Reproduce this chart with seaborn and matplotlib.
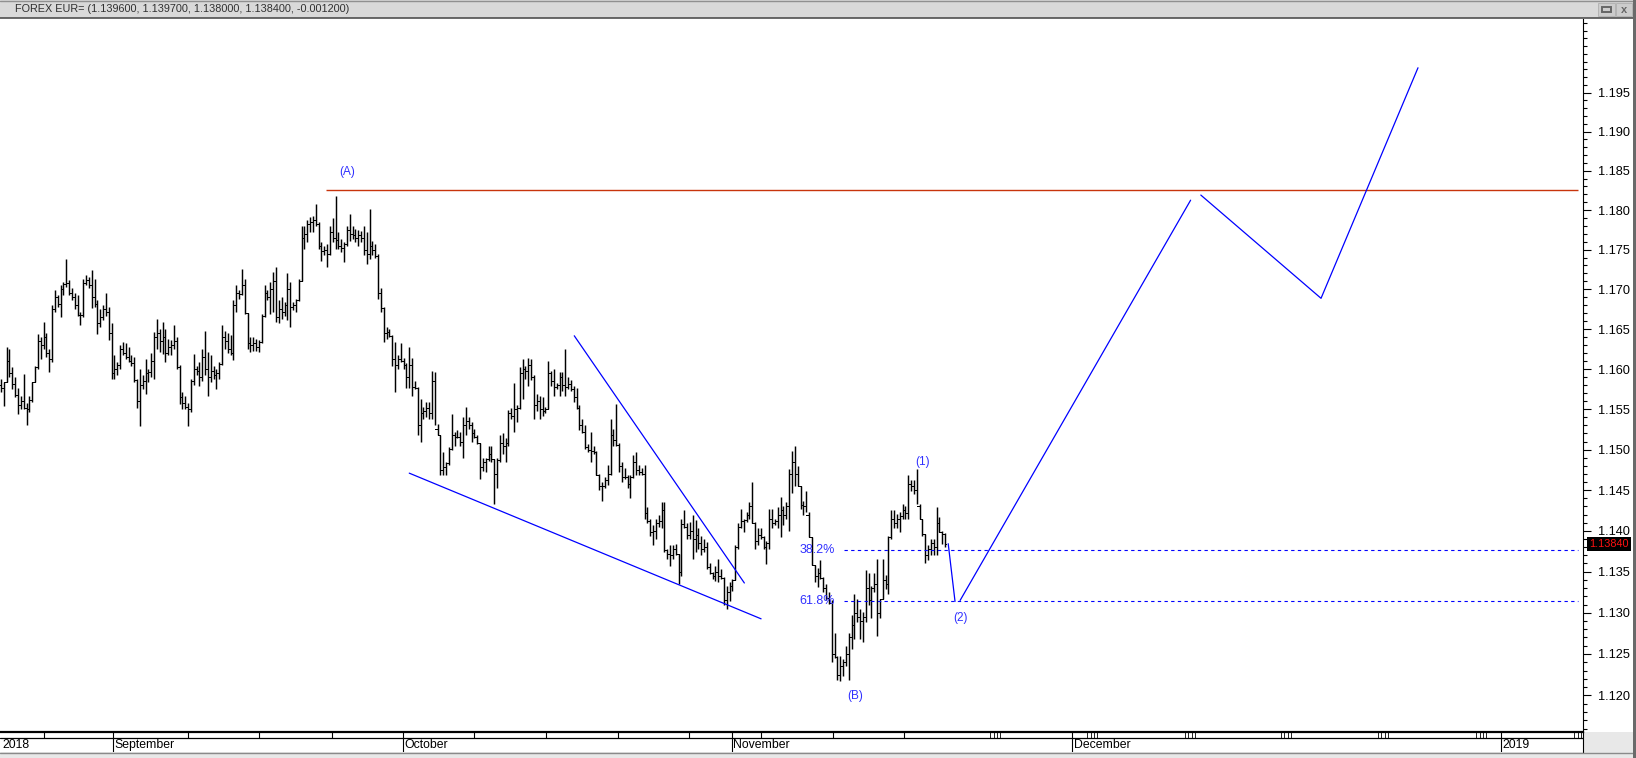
import numpy as np
import pandas as pd
import matplotlib
matplotlib.use("Agg")
import matplotlib.pyplot as plt
import matplotlib.transforms as mtransforms
from matplotlib.patches import Rectangle
from matplotlib.lines import Line2D
from matplotlib.ticker import FixedLocator, NullFormatter
import seaborn as sns

# EUR/USD intraday bars (open of each bar = close of the previous one)
first_open = 1.1580
high = [
    1.1588, 1.1584, 1.1627, 1.1625, 1.1602, 1.1590, 1.1577, 1.1567, 1.1594, 1.1558,
    1.1567, 1.1584, 1.1604, 1.1644, 1.1640, 1.1659, 1.1645, 1.1625, 1.1680, 1.1699,
    1.1693, 1.1705, 1.1709, 1.1738, 1.1712, 1.1701, 1.1695, 1.1693, 1.1672, 1.1713,
    1.1718, 1.1716, 1.1724, 1.1713, 1.1686, 1.1675, 1.1680, 1.1695, 1.1678, 1.1657,
    1.1617, 1.1609, 1.1630, 1.1634, 1.1632, 1.1628, 1.1617, 1.1615, 1.1588, 1.1600,
    1.1592, 1.1613, 1.1600, 1.1620, 1.1646, 1.1663, 1.1650, 1.1659, 1.1650, 1.1638,
    1.1636, 1.1655, 1.1640, 1.1605, 1.1571, 1.1567, 1.1558, 1.1588, 1.1619, 1.1604,
    1.1609, 1.1625, 1.1648, 1.1621, 1.1617, 1.1604, 1.1600, 1.1609, 1.1655, 1.1648,
    1.1645, 1.1642, 1.1686, 1.1705, 1.1699, 1.1726, 1.1713, 1.1670, 1.1640, 1.1640,
    1.1638, 1.1636, 1.1669, 1.1705, 1.1699, 1.1709, 1.1722, 1.1728, 1.1686, 1.1690,
    1.1684, 1.1720, 1.1709, 1.1684, 1.1688, 1.1713, 1.1780, 1.1780, 1.1788, 1.1791,
    1.1793, 1.1808, 1.1785, 1.1759, 1.1755, 1.1757, 1.1780, 1.1790, 1.1818, 1.1772,
    1.1763, 1.1759, 1.1780, 1.1795, 1.1780, 1.1776, 1.1775, 1.1774, 1.1780, 1.1772,
    1.1801, 1.1761, 1.1757, 1.1745, 1.1701, 1.1678, 1.1653, 1.1650, 1.1642, 1.1634,
    1.1617, 1.1632,
    1.1614, 1.1608, 1.1627, 1.1614, 1.1585, 1.1578, 1.1563, 1.1553, 1.1559, 1.1559,
    1.1598, 1.1596, 1.1532, 1.1518, 1.1497, 1.1485, 1.1503, 1.1544, 1.1522, 1.1524,
    1.1522, 1.1540, 1.1553, 1.1540, 1.1534, 1.1526, 1.1518, 1.1508, 1.1489, 1.1489,
    1.1505, 1.1505, 1.1488, 1.1489, 1.1518, 1.1520, 1.1514, 1.1549, 1.1551, 1.1583,
    1.1555, 1.1602, 1.1612, 1.1604, 1.1614, 1.1612, 1.1592, 1.1569, 1.1567, 1.1565,
    1.1553, 1.1610, 1.1598, 1.1600, 1.1583, 1.1596, 1.1596, 1.1625, 1.1590, 1.1586,
    1.1579, 1.1577, 1.1555, 1.1538, 1.1530, 1.1507, 1.1522, 1.1505, 1.1498, 1.1470,
    1.1460, 1.1466, 1.1481, 1.1538, 1.1526, 1.1557, 1.1508, 1.1485, 1.1477, 1.1468,
    1.1468, 1.1493, 1.1497, 1.1481, 1.1477, 1.1481, 1.1429, 1.1415, 1.1407, 1.1415,
    1.1419, 1.1435, 1.1435, 1.1378, 1.1382, 1.1382, 1.1384, 1.1372, 1.1415, 1.1425,
    1.1409, 1.1411, 1.1419, 1.1413, 1.1403, 1.1394, 1.1390, 1.1386, 1.1361, 1.1349,
    1.1357, 1.1365, 1.1353, 1.1343, 1.1333, 1.1337, 1.1341, 1.1382, 1.1409, 1.1427,
    1.1415, 1.1423, 1.1435, 1.1460, 1.1411, 1.1403, 1.1403, 1.1394, 1.1388, 1.1427,
    1.1427, 1.1415, 1.1429,
    1.1441, 1.1431, 1.1435, 1.1476, 1.1498, 1.1504, 1.1480, 1.1455, 1.1437, 1.1449,
    1.1423, 1.1392, 1.1358, 1.1354, 1.1364, 1.1343, 1.1335, 1.1325, 1.1315, 1.1276,
    1.1248, 1.1248, 1.1244, 1.1260, 1.1276, 1.1297, 1.1323, 1.1317, 1.1305, 1.1301,
    1.1352, 1.1348, 1.1333, 1.1348, 1.1366, 1.1317, 1.1366, 1.1346, 1.1394, 1.1425,
    1.1425, 1.1421, 1.1423, 1.1433, 1.1431, 1.1468, 1.1462, 1.1462, 1.1476, 1.1433,
    1.1415, 1.1396, 1.1382, 1.1390, 1.1390, 1.1429, 1.1417, 1.1400, 1.1397,
]
low = [
    1.1571, 1.1554, 1.1584, 1.1590, 1.1575, 1.1565, 1.1544, 1.1550, 1.1550, 1.1531,
    1.1546, 1.1559, 1.1584, 1.1600, 1.1613, 1.1625, 1.1615, 1.1596, 1.1609, 1.1672,
    1.1678, 1.1665, 1.1693, 1.1703, 1.1693, 1.1686, 1.1675, 1.1667, 1.1655, 1.1665,
    1.1705, 1.1701, 1.1676, 1.1678, 1.1644, 1.1652, 1.1661, 1.1667, 1.1636, 1.1588,
    1.1588, 1.1592, 1.1600, 1.1617, 1.1612, 1.1609, 1.1604, 1.1584, 1.1552, 1.1529,
    1.1575, 1.1569, 1.1584, 1.1590, 1.1588, 1.1625, 1.1621, 1.1619, 1.1609, 1.1617,
    1.1617, 1.1625, 1.1600, 1.1556, 1.1550, 1.1550, 1.1529, 1.1546, 1.1580, 1.1592,
    1.1579, 1.1585, 1.1592, 1.1567, 1.1584, 1.1588, 1.1575, 1.1588, 1.1605, 1.1625,
    1.1620, 1.1617, 1.1611, 1.1672, 1.1688, 1.1693, 1.1669, 1.1625, 1.1621, 1.1623,
    1.1622, 1.1621, 1.1632, 1.1665, 1.1686, 1.1669, 1.1672, 1.1659, 1.1657, 1.1662,
    1.1667, 1.1661, 1.1653, 1.1674, 1.1672, 1.1685, 1.1710, 1.1751, 1.1760, 1.1772,
    1.1772, 1.1780, 1.1751, 1.1736, 1.1743, 1.1728, 1.1743, 1.1760, 1.1751, 1.1751,
    1.1747, 1.1734, 1.1755, 1.1761, 1.1763, 1.1759, 1.1755, 1.1759, 1.1743, 1.1732,
    1.1738, 1.1743, 1.1740, 1.1688, 1.1672, 1.1634, 1.1638, 1.1640, 1.1604, 1.1571,
    1.1600, 1.1609,
    1.1600, 1.1577, 1.1577, 1.1567, 1.1575, 1.1518, 1.1509, 1.1538, 1.1540, 1.1538,
    1.1538, 1.1530, 1.1518, 1.1468, 1.1468, 1.1468, 1.1481, 1.1500, 1.1505, 1.1514,
    1.1505, 1.1489, 1.1518, 1.1526, 1.1509, 1.1514, 1.1507, 1.1464, 1.1474, 1.1472,
    1.1486, 1.1485, 1.1433, 1.1452, 1.1485, 1.1495, 1.1485, 1.1505, 1.1538, 1.1522,
    1.1534, 1.1550, 1.1563, 1.1588, 1.1579, 1.1586, 1.1538, 1.1548, 1.1538, 1.1542,
    1.1545, 1.1550, 1.1579, 1.1567, 1.1575, 1.1567, 1.1573, 1.1567, 1.1575, 1.1573,
    1.1559, 1.1550, 1.1524, 1.1520, 1.1501, 1.1497, 1.1485, 1.1495, 1.1468, 1.1450,
    1.1437, 1.1452, 1.1456, 1.1468, 1.1505, 1.1505, 1.1472, 1.1460, 1.1464, 1.1452,
    1.1440, 1.1465, 1.1468, 1.1468, 1.1468, 1.1415, 1.1409, 1.1394, 1.1382, 1.1390,
    1.1405, 1.1403, 1.1374, 1.1365, 1.1357, 1.1365, 1.1370, 1.1335, 1.1345, 1.1403,
    1.1390, 1.1390, 1.1365, 1.1374, 1.1378, 1.1370, 1.1374, 1.1353, 1.1347, 1.1341,
    1.1339, 1.1337, 1.1341, 1.1310, 1.1304, 1.1314, 1.1326, 1.1340, 1.1378, 1.1403,
    1.1398, 1.1411, 1.1415, 1.1409, 1.1378, 1.1382, 1.1390, 1.1378, 1.1359, 1.1378,
    1.1403, 1.1407, 1.1403,
    1.1392, 1.1407, 1.1415, 1.1400, 1.1447, 1.1455, 1.1455, 1.1427, 1.1419, 1.1423,
    1.1392, 1.1358, 1.1337, 1.1331, 1.1341, 1.1325, 1.1315, 1.1311, 1.1240, 1.1245,
    1.1219, 1.1217, 1.1223, 1.1236, 1.1219, 1.1256, 1.1268, 1.1289, 1.1268, 1.1264,
    1.1289, 1.1309, 1.1293, 1.1325, 1.1272, 1.1293, 1.1317, 1.1329, 1.1323, 1.1390,
    1.1403, 1.1403, 1.1398, 1.1415, 1.1415, 1.1415, 1.1449, 1.1445, 1.1433, 1.1415,
    1.1394, 1.1360, 1.1364, 1.1370, 1.1370, 1.1370, 1.1398, 1.1384, 1.1380,
]
close = [
    1.1576, 1.1584, 1.1610, 1.1595, 1.1582, 1.1568, 1.1555, 1.1560, 1.1552, 1.1550,
    1.1562, 1.1584, 1.1602, 1.1635, 1.1630, 1.1640, 1.1620, 1.1612, 1.1675, 1.1690,
    1.1682, 1.1700, 1.1706, 1.1708, 1.1695, 1.1690, 1.1680, 1.1668, 1.1668, 1.1708,
    1.1712, 1.1705, 1.1690, 1.1682, 1.1658, 1.1665, 1.1675, 1.1672, 1.1645, 1.1595,
    1.1600, 1.1605, 1.1625, 1.1620, 1.1615, 1.1610, 1.1608, 1.1586, 1.1560, 1.1580,
    1.1585, 1.1595, 1.1596, 1.1610, 1.1640, 1.1645, 1.1635, 1.1640, 1.1620, 1.1628,
    1.1630, 1.1635, 1.1603, 1.1565, 1.1558, 1.1553, 1.1550, 1.1585, 1.1600, 1.1598,
    1.1590, 1.1615, 1.1600, 1.1590, 1.1598, 1.1592, 1.1595, 1.1606, 1.1640, 1.1635,
    1.1625, 1.1620, 1.1680, 1.1695, 1.1694, 1.1705, 1.1670, 1.1632, 1.1630, 1.1632,
    1.1628, 1.1634, 1.1666, 1.1695, 1.1690, 1.1700, 1.1710, 1.1665, 1.1675, 1.1672,
    1.1680, 1.1700, 1.1678, 1.1680, 1.1686, 1.1711, 1.1765, 1.1770, 1.1782, 1.1785,
    1.1788, 1.1782, 1.1755, 1.1748, 1.1750, 1.1745, 1.1772, 1.1765, 1.1762, 1.1755,
    1.1752, 1.1757, 1.1775, 1.1770, 1.1768, 1.1765, 1.1768, 1.1765, 1.1750, 1.1745,
    1.1755, 1.1750, 1.1742, 1.1695, 1.1676, 1.1645, 1.1646, 1.1641, 1.1612, 1.1605,
    1.1612, 1.1610,
    1.1605, 1.1590, 1.1605, 1.1578, 1.1577, 1.1530, 1.1545, 1.1548, 1.1552, 1.1545,
    1.1585, 1.1525, 1.1518, 1.1475, 1.1478, 1.1483, 1.1501, 1.1518, 1.1516, 1.1515,
    1.1510, 1.1530, 1.1535, 1.1530, 1.1520, 1.1516, 1.1508, 1.1478, 1.1485, 1.1488,
    1.1495, 1.1488, 1.1470, 1.1487, 1.1508, 1.1505, 1.1508, 1.1545, 1.1542, 1.1550,
    1.1552, 1.1595, 1.1600, 1.1598, 1.1605, 1.1590, 1.1555, 1.1560, 1.1550, 1.1548,
    1.1550, 1.1595, 1.1585, 1.1578, 1.1580, 1.1590, 1.1580, 1.1578, 1.1582, 1.1575,
    1.1565, 1.1552, 1.1530, 1.1522, 1.1503, 1.1500, 1.1498, 1.1497, 1.1469, 1.1455,
    1.1455, 1.1462, 1.1470, 1.1518, 1.1512, 1.1506, 1.1480, 1.1466, 1.1466, 1.1458,
    1.1466, 1.1485, 1.1475, 1.1472, 1.1470, 1.1422, 1.1412, 1.1398, 1.1400, 1.1410,
    1.1412, 1.1425, 1.1376, 1.1372, 1.1370, 1.1378, 1.1371, 1.1350, 1.1408, 1.1405,
    1.1395, 1.1400, 1.1390, 1.1395, 1.1385, 1.1378, 1.1380, 1.1356, 1.1348, 1.1345,
    1.1350, 1.1345, 1.1342, 1.1315, 1.1325, 1.1332, 1.1340, 1.1380, 1.1405, 1.1412,
    1.1413, 1.1420, 1.1430, 1.1410, 1.1388, 1.1395, 1.1392, 1.1380, 1.1385, 1.1415,
    1.1410, 1.1412, 1.1420,
    1.1425, 1.1420, 1.1430, 1.1470, 1.1485, 1.1470, 1.1455, 1.1432, 1.1430, 1.1420,
    1.1392, 1.1358, 1.1345, 1.1348, 1.1342, 1.1330, 1.1318, 1.1312, 1.1250, 1.1246,
    1.1225, 1.1235, 1.1240, 1.1250, 1.1270, 1.1285, 1.1300, 1.1295, 1.1290, 1.1295,
    1.1330, 1.1315, 1.1330, 1.1335, 1.1300, 1.1317, 1.1340, 1.1335, 1.1392, 1.1415,
    1.1410, 1.1415, 1.1418, 1.1425, 1.1422, 1.1458, 1.1455, 1.1450, 1.1430, 1.1415,
    1.1396, 1.1370, 1.1378, 1.1385, 1.1380, 1.1410, 1.1399, 1.1396, 1.1384,
]

# drawings (x in bar numbers, y in price)
proj_bar = [334.1, 336.5, 338.3, 419.6, 423.2, 465.6, 499.8]
proj_price = [1.13842, 1.13138, 1.13150, 1.18126, 1.18191, 1.16886, 1.19820]
proj_leg = [1, 1, 2, 2, 3, 3, 3]
lower_line_bar = [144.0, 268.1]
lower_line_price = [1.14709, 1.12926]
upper_line_bar = [202.2, 262.2]
upper_line_price = [1.16416, 1.13362]
resistance_price = 1.18257
resistance_bar = [114.6, 556.3]
fib_price = [1.13768, 1.13138]
fib_text = ["38.2%", "61.8%"]
fib_start_bar = 297.4
wave_text = ["(A)", "(B)", "(1)", "(2)"]
wave_bar = [122.2, 301.4, 325.0, 338.4]
wave_price = [1.18486, 1.11998, 1.14842, 1.12936]
last_price = 1.13840

# axis marks
price_major = [1.120, 1.125, 1.130, 1.135, 1.140, 1.145, 1.150, 1.155,
               1.160, 1.165, 1.170, 1.175, 1.180, 1.185, 1.190, 1.195]
week_bar = [15.2, 65.9, 91.0, 116.6, 166.8, 192.4, 217.6, 242.7, 268.1, 293.5, 318.5]
future_week_bar = [348.9, 383.1, 417.6, 451.5, 485.7, 520.3, 554.9]
month_bar = [0, 39.5, 141.7, 257.7, 377.7, 529.1]
month_names = ["2018", "September", "October", "November", "December", "2019"]
title = "FOREX EUR= (1.139600, 1.139700, 1.138000, 1.138400, -0.001200)"

sns.set_theme(style="white")
plt.rcParams["font.family"] = ["Liberation Sans", "DejaVu Sans"]

W, H = 1636, 758
XMIN, XMAX = -0.35, 558.0
fig = plt.figure(figsize=(W / 100, H / 100), dpi=100)
fig.patch.set_facecolor("#e8e8e8")


def frac(x0, y0, x1, y1):
    return [x0 / W, 1 - y1 / H, (x1 - x0) / W, (y1 - y0) / H]


def rect(x0, y0, x1, y1, **kw):
    r = Rectangle((x0 / W, 1 - y1 / H), (x1 - x0) / W, (y1 - y0) / H,
                  transform=fig.transFigure, **kw)
    fig.add_artist(r)
    return r


# window frame
rect(0, 18, 1633, 732, facecolor="white", edgecolor="none", zorder=0)
rect(0, 0, W, 18, facecolor="#d9d9d9", edgecolor="none", zorder=0)
fig.add_artist(Line2D([0, 1], [1 - 18 / H] * 2, transform=fig.transFigure, color="#505050", lw=1.2))
fig.add_artist(Line2D([0, 1], [1 - 0.5 / H] * 2, transform=fig.transFigure, color="#909090", lw=1))
rect(1633, 0, W, H, facecolor="#6a6a6a", edgecolor="none", zorder=3)
fig.text(15 / W, 1 - 9.5 / H, title, fontsize=7.8, color="#303030", va="center", ha="left")
rect(1598, 3, 1615, 16, facecolor="#cccccc", edgecolor="#b4b4b4", lw=0.7)
rect(1616, 3, 1632, 16, facecolor="#cccccc", edgecolor="#b4b4b4", lw=0.7)
rect(1602, 7, 1611, 12, facecolor="none", edgecolor="#666666", lw=1.4)
fig.text(1624 / W, 1 - 9.8 / H, "x", fontsize=8, fontweight="bold", color="#666666",
         ha="center", va="center")

# price panel
ax = fig.add_axes(frac(0, 19, 1583, 732))
ax.set_facecolor("white")
ax.set_yscale("log")

n = len(close)
bars = np.arange(n)
opens = [first_open] + close[:-1]
ax.vlines(bars, low, high, color="black", lw=1.05, antialiased=True)
ax.hlines(opens, bars - 0.42, bars, color="black", lw=0.72, antialiased=False)
ax.hlines(close, bars, bars + 0.42, color="black", lw=0.72, antialiased=False)

# wedge lines and resistance
ax.plot(lower_line_bar, lower_line_price, color="#0000ff", lw=0.9)
ax.plot(upper_line_bar, upper_line_price, color="#0000ff", lw=0.9)
ax.hlines(resistance_price, resistance_bar[0], resistance_bar[1], color="#c8340c", lw=1.0)

# fibonacci retracement levels
for lvl, txt in zip(fib_price, fib_text):
    ax.hlines(lvl, fib_start_bar, resistance_bar[1], color="#0000ff", lw=0.8,
              linestyles=(0, (3, 3)))
    ax.text(fib_start_bar - 3.2, lvl, txt, color="#3030ff", fontsize=9,
            ha="right", va="center")

# projected path
proj = pd.DataFrame({"bar": proj_bar, "price": proj_price, "leg": proj_leg})
sns.lineplot(data=proj, x="bar", y="price", units="leg", estimator=None, sort=False,
             color="#0000ff", lw=0.9, ax=ax, legend=False)

for txt, b, p in zip(wave_text, wave_bar, wave_price):
    ax.text(b, p, txt, color="#3030ff", fontsize=8.5, ha="center", va="center")

ax.set_xlim(XMIN, XMAX)
ax.set_ylim(1.1156, 1.2045)
ax.set_xlabel("")
ax.set_ylabel("")
ax.set_xticks([])
ax.yaxis.tick_right()
ax.set_yticks(price_major)
ax.set_yticklabels([f"{v:.3f}" for v in price_major])
ax.yaxis.set_minor_locator(FixedLocator(np.arange(1.116, 1.2045, 0.001)))
ax.yaxis.set_minor_formatter(NullFormatter())
ax.tick_params(axis="y", which="major", direction="out", length=5.8, width=0.8,
               color="black", labelsize=9.2, pad=4.8, labelcolor="black")
ax.tick_params(axis="y", which="minor", direction="out", length=2.9, width=0.8,
               color="black")
for s in ["top", "left", "bottom"]:
    ax.spines[s].set_visible(False)
ax.spines["right"].set_color("black")
ax.spines["right"].set_linewidth(0.8)

# last price tag
tag_tr = mtransforms.blended_transform_factory(ax.transAxes, ax.transData)
ax.text(1.0038, last_price, f"{last_price:.5f}", transform=tag_tr, color="#ff1010",
        fontsize=7.8, ha="left", va="center", clip_on=False, zorder=10,
        bbox=dict(facecolor="black", edgecolor="none", pad=1.6))

# date strip
dax = fig.add_axes(frac(0, 732, 1583, 752))
dax.set_facecolor("white")
dax.set_xlim(XMIN, XMAX)
dax.set_ylim(0, 1)
dax.set_xticks([])
dax.set_yticks([])
for s in ["left", "bottom"]:
    dax.spines[s].set_visible(False)
dax.spines["top"].set_linewidth(1.6)
dax.spines["top"].set_color("black")
dax.spines["right"].set_linewidth(0.8)
dax.spines["right"].set_color("black")
dax.axhline(0.72, color="black", lw=0.9)
dax.vlines(week_bar, 0.72, 1, color="black", lw=0.8)
for b in future_week_bar:
    dax.vlines([b, b + 1.2, b + 2.4, b + 3.6], 0.72, 1, color="black", lw=0.6)
dax.vlines(month_bar[1:], 0, 1, color="black", lw=0.8)
for b, name in zip(month_bar, month_names):
    dax.text(b + 0.6, 0.36, name, fontsize=8.8, color="black", ha="left", va="center")
fig.add_artist(Line2D([0, 1633 / W], [1 - 752.5 / H] * 2, transform=fig.transFigure,
                      color="#8a8a8a", lw=1))

fig.savefig("out.png", dpi=100, facecolor=fig.get_facecolor())
